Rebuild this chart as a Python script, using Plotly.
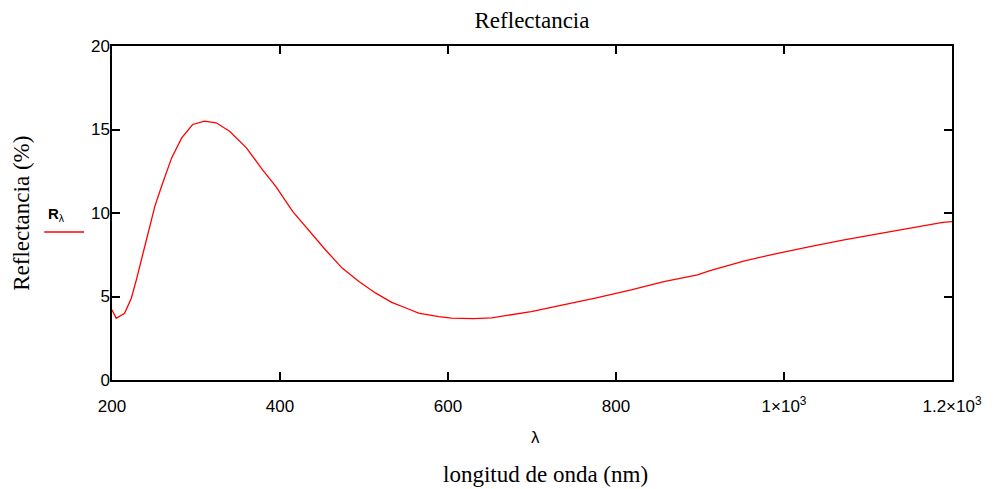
import plotly.graph_objects as go

# Wavelength (nm) and reflectance (%)
wavelength = [200, 205, 215, 223, 229, 237, 245, 251, 259, 271, 283, 296, 310, 324,
              340, 360, 379, 395, 415, 435, 454, 474, 494, 514, 533, 553, 565, 589,
              604, 630, 652, 699, 739, 778, 818, 857, 897, 912, 952, 991, 1031,
              1070, 1110, 1149, 1189, 1200]
reflectance = [4.2, 3.7, 4.0, 4.9, 6.0, 7.6, 9.2, 10.4, 11.6, 13.3, 14.5, 15.3, 15.5, 15.4,
               14.9, 13.9, 12.6, 11.6, 10.1, 8.9, 7.8, 6.7, 5.9, 5.2, 4.65, 4.25, 4.0, 3.8,
               3.7, 3.68, 3.72, 4.1, 4.5, 4.93, 5.39, 5.89, 6.3, 6.55, 7.12, 7.57, 7.98,
               8.38, 8.74, 9.08, 9.44, 9.48]

x_tickvals = [200, 400, 600, 800, 1000, 1200]
x_ticktext = ["200", "400", "600", "800", "1\u00d710<sup>3</sup>", "1.2\u00d710<sup>3</sup>"]
y_tickvals = [0, 5, 10, 15, 20]

SERIF = "Liberation Serif, Times New Roman, serif"
SANS = "Liberation Sans, Arial, sans-serif"

fig = go.Figure()
fig.add_trace(go.Scatter(x=wavelength, y=reflectance, mode="lines",
                         line=dict(color="#ff0000", width=1.3), showlegend=False))

axis_common = dict(showline=True, linecolor="black", linewidth=1.5, mirror="ticks",
                   ticks="inside", ticklen=8, tickwidth=1.5, tickcolor="black",
                   showgrid=False, zeroline=False,
                   tickfont=dict(family=SANS, size=17, color="black"))

fig.update_xaxes(range=[200, 1200], tickvals=x_tickvals, ticktext=x_ticktext,
                 ticklabelstandoff=10, **axis_common)
fig.update_yaxes(range=[0, 20], tickvals=y_tickvals, ticklabelstandoff=-3, **axis_common)

fig.update_layout(
    width=986, height=481,
    margin=dict(l=104, r=38, t=38, b=109),
    paper_bgcolor="white", plot_bgcolor="white",
    title=dict(text="Reflectancia", xref="paper", x=0.5, xanchor="center",
               y=1 - 12 / 481, yanchor="middle",
               font=dict(family=SERIF, size=23, color="black")),
    annotations=[
        dict(text="Reflectancia (%)", xref="paper", yref="paper", x=-0.108, y=0.4985,
             textangle=-90, showarrow=False, xanchor="center", yanchor="middle",
             font=dict(family=SERIF, size=23, color="black")),
        dict(text="\u03bb", xref="paper", yref="paper", x=0.5036, y=-0.171,
             showarrow=False, xanchor="center", yanchor="middle",
             font=dict(family=SANS, size=17, color="black")),
        dict(text="longitud de onda (nm)", xref="paper", yref="paper", x=0.5166, y=-0.284,
             showarrow=False, xanchor="center", yanchor="middle",
             font=dict(family=SERIF, size=23, color="black")),
        dict(text="<b>R</b><sub>\u03bb</sub>", xref="paper", yref="paper", x=-0.0664, y=0.497,
             showarrow=False, xanchor="center", yanchor="middle",
             font=dict(family=SANS, size=15, color="black")),
    ],
    shapes=[dict(type="line", xref="paper", yref="paper", x0=-0.0806, x1=-0.0332,
                 y0=0.443, y1=0.443, line=dict(color="#ff0000", width=1.5))],
)

fig.write_html("out.html")
